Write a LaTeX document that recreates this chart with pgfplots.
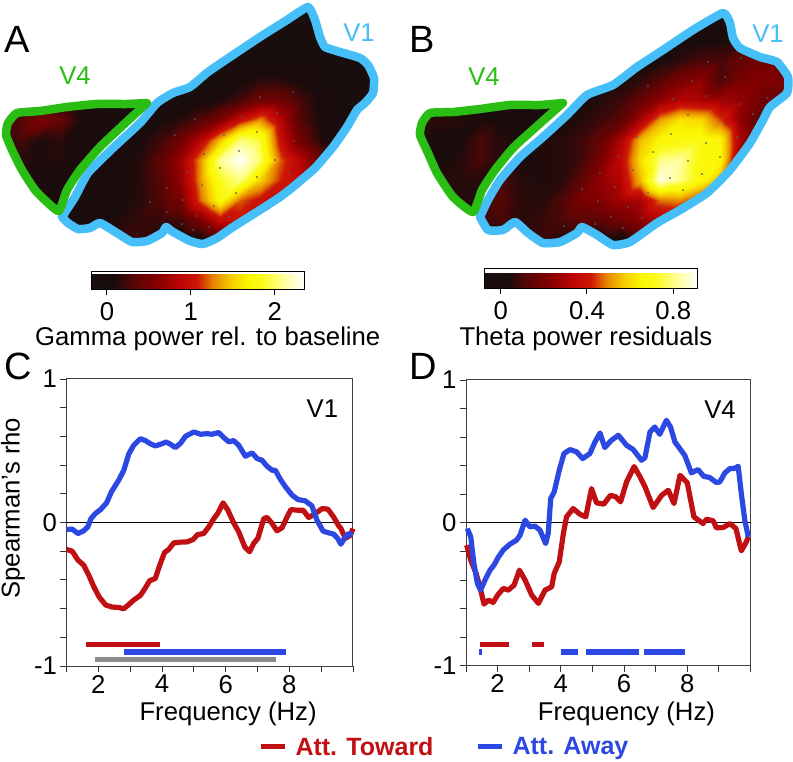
\documentclass[border=0pt]{standalone}
\usepackage{fontspec}
\setmainfont{Liberation Sans}
\usepackage{pgfplots}
\pgfplotsset{compat=1.18}
\newcommand{\bigf}{\fontsize{25.7}{28}\selectfont}
\newcommand{\legf}{\fontsize{25}{28}\selectfont}
\newcommand{\panelf}{\fontsize{38}{42}\selectfont}
\definecolor{towardred}{RGB}{192,16,20}
\definecolor{awayblue}{RGB}{44,72,226}
\definecolor{sigray}{RGB}{140,140,140}
\definecolor{vonecol}{RGB}{70,190,248}
\definecolor{vfourcol}{RGB}{42,190,20}
\pgfplotsset{
  colormap={hotmap}{
    rgb255(0)=(24,14,14) rgb255(11)=(26,12,12) rgb255(20)=(90,5,5) rgb255(30)=(130,0,0)
    rgb255(42)=(190,5,5) rgb255(50)=(205,25,5) rgb255(57)=(230,130,0) rgb255(65)=(245,200,0)
    rgb255(73)=(250,245,0) rgb255(80)=(250,250,25) rgb255(90)=(255,255,150) rgb255(100)=(255,255,255)
  },
  mapaxis/.style={
    scale only axis, hide axis, clip=false, y dir=reverse,
    xmin=0, ymin=0, ymax=260, height=260pt, enlargelimits=false,
    colormap name=hotmap,
  },
  heat/.style={surf, shader=interp, point meta=explicit, forget plot},
  mybar/.style={
    colorbar horizontal,
    colorbar style={
      scale only axis, anchor=north west, tick align=outside, xtick pos=lower,
      major tick length=6pt, axis line style={black,line width=0.9pt},
      xtick style={draw=black,line width=0.9pt},
      xticklabel style={font=\bigf,yshift=-4pt},
    },
  },
  outline/.style={line width=8.5pt, line join=round, line cap=round, smooth, tension=0.3, forget plot},
  curveaxis/.style={
    scale only axis, clip=false,
    xmin=1, xmax=10, ymin=-1, ymax=1,
    xtick={2,4,6,8}, xticklabels={2,4,6,8}, minor xtick={1,3,5,7,9,10},
    ytick={-1,0,1}, yticklabels={-1,0,1},
    minor ytick={-0.8,-0.6,-0.4,-0.2,0.2,0.4,0.6,0.8},
    xtick pos=lower, ytick pos=left, tick align=outside,
    major tick length=6pt, minor tick length=6pt,
    tick style={black!80,line width=0.9pt},
    minor tick style={black!80,line width=0.9pt},
    axis line style={black!75,line width=1pt},
    tick label style={font=\bigf},
    xticklabel style={yshift=-3pt, inner ysep=0pt},
    xlabel={Frequency (Hz)},
    every axis x label/.style={at={(axis description cs:0.564,-0.168)},anchor=center,font=\bigf,inner ysep=0pt},
  },
}
\begin{document}
\begin{tikzpicture}
\path[use as bounding box] (0pt,0pt) rectangle (793pt,761pt);

% panel A, coordinates are image pixels
\begin{axis}[mapaxis, mybar, at={(0pt,501pt)}, anchor=south west,
    xmax=380, width=380pt, point meta min=-0.19, point meta max=2.35,
    colorbar style={at={(0.2395,-0.0423)}, width=213pt, height=18pt,
      xtick={0,1,2}, xticklabels={0,1,2},
      xlabel={Gamma power rel. to baseline},
      every axis x label/.style={at={(axis description cs:0.548,-2.78)},anchor=center,font=\bigf}}]
\addplot[heat, mesh/cols=20] table[row sep=crcr, header=false, meta index=0,
    x expr={mod(\coordindex,20)*20}, y expr={floor(\coordindex/20)*20}] {
0\\0\\0\\0\\0\\0\\0\\0\\0\\0\\0\\0\\0\\0\\0\\0\\0\\0\\0\\0\\
0\\0\\0\\0\\0\\0\\0\\0\\0\\0\\0\\0\\0\\0\\0\\0\\0\\0\\0\\0\\
0\\0\\0\\0\\0\\0\\0\\0\\0\\0\\0\\0\\0\\0\\0\\0\\0\\0\\0\\0\\
0\\0\\0\\0\\0\\0\\0\\0\\0\\0\\0\\0\\0\\0\\0\\0\\0\\0\\0\\0\\
0\\0\\0\\0\\0\\0\\0\\0\\0\\0\\0\\0\\0.05\\0.15\\0.15\\0.05\\0\\0\\0\\0\\
0\\0\\0\\0\\0\\0\\0\\0\\0\\0\\0.05\\0.1\\0.25\\0.45\\0.45\\0.25\\0.05\\0\\0\\0\\
0.2\\0.3\\0.55\\0.4\\0.1\\0.05\\0\\0\\0.08\\0.15\\0.3\\0.55\\1.0\\1.3\\0.85\\0.3\\0.08\\0\\0\\0\\
0.2\\0.25\\0.1\\0.15\\0.05\\0.05\\0.05\\0.08\\0.22\\0.45\\0.85\\1.45\\2.05\\1.9\\1.0\\0.45\\0.12\\0\\0\\0\\
0.1\\0.15\\0.1\\0.12\\0.08\\0.05\\0.06\\0.14\\0.35\\0.7\\1.3\\2.1\\2.35\\2.0\\1.2\\0.85\\0.4\\0\\0\\0\\
0.1\\0.1\\0.1\\0.08\\0.05\\0.05\\0.06\\0.14\\0.3\\0.65\\1.3\\1.85\\2.05\\1.5\\1.1\\0.95\\0.5\\0.1\\0\\0\\
0.1\\0.1\\0.1\\0.08\\0.05\\0.05\\0.06\\0.14\\0.28\\0.5\\1.2\\1.75\\1.2\\1.0\\0.95\\0.8\\0.4\\0\\0\\0\\
0\\0\\0\\0\\0\\0.08\\0.12\\0.18\\0.18\\0.22\\0.5\\0.95\\1.0\\0.9\\0.8\\0.5\\0\\0\\0\\0\\
0\\0\\0\\0\\0\\0.1\\0.2\\0.2\\0.05\\0\\0\\0.2\\0.5\\0.6\\0.5\\0\\0\\0\\0\\0\\
0\\0\\0\\0\\0\\0.1\\0.2\\0.2\\0.05\\0\\0\\0.2\\0.5\\0.6\\0.5\\0\\0\\0\\0\\0\\
};
% white mask outside the two areas
\addplot[fill=white, draw=white, line width=1pt, even odd rule, forget plot] coordinates {
  (-1,-1) (381,-1) (381,261) (-1,261) (-1,-1)
  (308,7) (315,20) (320,37) (325,47) (340,52) (360,58) (368,65) (374,78) (373,93) (365,103) (357,110)
  (347,127) (333,147) (315,168) (293,187) (280,197) (260,210) (233,227) (217,238) (203,244) (190,241)
  (173,232) (166,227) (162,233) (147,241) (132,242) (117,233) (100,223) (90,228) (78,229) (68,223) (62,217)
  (75,197) (88,173) (113,148) (140,123) (157,103) (173,93) (190,87) (208,72) (233,55) (260,37) (287,20) (308,7)
  (-1,-1)
  (17,113) (8,123) (6,135) (13,152) (22,170) (35,190) (48,203) (59,211) (67,190) (80,170) (100,147) (120,128)
  (147,103) (127,104) (97,104) (67,107) (40,111) (17,113)
  (-1,-1)
};
% electrode sites
\addplot[only marks, mark=*, mark size=0.55pt, black!65, forget plot] coordinates {
  (204,154) (224,135) (257,132) (239,151) (220,168) (257,177) (202,185) (236,193) (214,206) (229,217)
  (249,203) (270,189) (289,173) (275,160) (294,141) (277,113) (242,117) (260,97) (293,92) (187,172)
  (175,135) (195,119) (167,188) (183,200) (150,202) (167,212) (197,216) (182,224) (209,227) (193,230)
};
\addplot[draw=vonecol, outline] coordinates {
  (62,217) (75,197) (88,173) (113,148) (140,123) (157,103) (173,93) (190,87) (208,72) (233,55)
  (260,37) (287,20) (308,7) (315,20) (320,37) (325,47) (340,52) (360,58) (368,65) (374,78) (373,93)
  (365,103) (357,110) (347,127) (333,147) (315,168) (293,187) (280,197) (260,210) (233,227) (217,238)
  (203,244) (190,241) (173,232) (166,227) (162,233) (147,241) (132,242) (117,233) (100,223) (90,228)
  (78,229) (68,223) (62,217)
};
\addplot[draw=vfourcol, outline] coordinates {
  (147,103) (127,104) (97,104) (67,107) (40,111) (17,113) (8,123) (6,135) (13,152) (22,170) (35,190)
  (48,203) (59,211) (67,190) (80,170) (100,147) (120,128) (147,103)
};
\node[font=\panelf] at (axis cs:17,39) {A};
\node[font=\bigf, text=vfourcol] at (axis cs:75,76) {V4};
\node[font=\bigf, text=vonecol] at (axis cs:359,33) {V1};
\end{axis}

% panel B
\begin{axis}[mapaxis, mybar, at={(400pt,501pt)}, anchor=south west,
    xmax=400, width=400pt, point meta min=-0.074, point meta max=0.912,
    colorbar style={at={(0.2118,-0.0308)}, width=212.6pt, height=20pt,
      xtick={0,0.4,0.8}, xticklabels={0,0.4,0.8},
      xlabel={Theta power residuals},
      every axis x label/.style={at={(axis description cs:0.476,-2.55)},anchor=center,font=\bigf}}]
\addplot[heat, mesh/cols=21] table[row sep=crcr, header=false, meta index=0,
    x expr={mod(\coordindex,21)*20}, y expr={floor(\coordindex/21)*20}] {
0\\0\\0\\0\\0\\0\\0\\0\\0\\0\\0\\0\\0\\0\\0\\0\\0\\0\\0\\0\\0\\
0\\0\\0\\0\\0\\0\\0\\0\\0\\0\\0\\0\\0\\0\\0\\0\\0.02\\0.03\\0\\0\\0\\
0\\0\\0\\0\\0\\0\\0\\0\\0\\0\\0\\0\\0\\0\\0.02\\0.03\\0.03\\0.05\\0.1\\0.1\\0.1\\
0\\0\\0\\0\\0\\0\\0\\0\\0\\0\\0\\0\\0.02\\0.03\\0.06\\0.1\\0.1\\0.15\\0.17\\0.2\\0.2\\
0\\0\\0\\0\\0\\0\\0\\0\\0\\0\\0.02\\0.03\\0.06\\0.12\\0.2\\0.25\\0.1\\0.2\\0.22\\0.2\\0.2\\
0\\0\\0\\0\\0\\0\\0\\0\\0\\0.03\\0.05\\0.08\\0.15\\0.25\\0.32\\0.3\\0.28\\0.25\\0.18\\0.15\\0.15\\
0.04\\0.05\\0.06\\0.05\\0.04\\0.03\\0.03\\0.02\\0.03\\0.05\\0.08\\0.13\\0.3\\0.52\\0.62\\0.6\\0.45\\0.25\\0.12\\0.1\\0.1\\
0.04\\0.04\\0.02\\0.03\\0.1\\0.05\\0.03\\0.04\\0.05\\0.08\\0.15\\0.3\\0.55\\0.66\\0.68\\0.7\\0.66\\0.3\\0.1\\0.05\\0.05\\
0.03\\0.03\\0.03\\0.05\\0.1\\0.05\\0.03\\0.04\\0.05\\0.08\\0.2\\0.35\\0.6\\0.8\\0.82\\0.68\\0.66\\0.25\\0.05\\0\\0\\
0.03\\0.03\\0.05\\0.05\\0.05\\0.1\\0.05\\0.04\\0.05\\0.13\\0.25\\0.32\\0.55\\0.88\\0.8\\0.68\\0.55\\0.1\\0\\0\\0\\
0.03\\0.03\\0.05\\0.05\\0.05\\0.12\\0.06\\0.05\\0.1\\0.2\\0.22\\0.28\\0.3\\0.48\\0.5\\0.4\\0.2\\0\\0\\0\\0\\
0\\0\\0\\0\\0.08\\0.1\\0.06\\0.07\\0.1\\0.13\\0.13\\0.18\\0.25\\0.3\\0.25\\0.1\\0\\0\\0\\0\\0\\
0\\0\\0\\0\\0\\0.05\\0.06\\0.08\\0.05\\0.02\\0.02\\0\\0.1\\0.12\\0.1\\0\\0\\0\\0\\0\\0\\
0\\0\\0\\0\\0\\0.05\\0.06\\0.08\\0.05\\0.02\\0.02\\0\\0.1\\0.12\\0.1\\0\\0\\0\\0\\0\\0\\
};
\addplot[fill=white, draw=white, line width=1pt, even odd rule, forget plot] coordinates {
  (-1,-1) (401,-1) (401,261) (-1,261) (-1,-1)
  (323,13) (330,23) (333,38) (340,48) (360,57) (377,62) (388,77) (387,93) (370,107) (363,120) (350,143)
  (330,170) (307,193) (280,210) (257,223) (230,242) (213,245) (197,235) (182,227) (177,233) (160,242)
  (143,243) (128,233) (115,222) (103,230) (88,230) (80,217) (88,200) (100,180) (120,157) (143,137)
  (167,115) (187,95) (213,85) (237,67) (263,50) (293,30) (323,13)
  (-1,-1)
  (30,113) (22,123) (20,135) (28,153) (37,173) (53,197) (73,212) (82,190) (95,170) (113,148) (136,127)
  (163,103) (140,105) (110,105) (80,109) (53,112) (30,113)
  (-1,-1)
};
\addplot[only marks, mark=*, mark size=0.55pt, black!65, forget plot] coordinates {
  (270,178) (288,161) (302,174) (320,157) (306,143) (271,134) (253,152) (233,170) (218,156) (237,137)
  (256,119) (288,115) (325,124) (337,137) (273,99) (306,96) (341,104) (353,114) (367,98) (292,81)
  (325,77) (341,58) (308,62) (248,86) (200,173) (215,187) (248,193) (283,190) (262,206) (228,207)
  (198,201) (182,189) (211,217) (242,218) (223,228) (195,224) (164,226)
};
\addplot[draw=vonecol, outline] coordinates {
  (80,217) (88,200) (100,180) (120,157) (143,137) (167,115) (187,95) (213,85) (237,67) (263,50) (293,30)
  (323,13) (330,23) (333,38) (340,48) (360,57) (377,62) (388,77) (387,93) (370,107) (363,120) (350,143)
  (330,170) (307,193) (280,210) (257,223) (230,242) (213,245) (197,235) (182,227) (177,233) (160,242)
  (143,243) (128,233) (115,222) (103,230) (88,230) (80,217)
};
\addplot[draw=vfourcol, outline] coordinates {
  (163,103) (140,105) (110,105) (80,109) (53,112) (30,113) (22,123) (20,135) (28,153) (37,173) (53,197)
  (73,212) (82,190) (95,170) (113,148) (136,127) (163,103)
};
\node[font=\panelf] at (axis cs:22,39) {B};
\node[font=\bigf, text=vfourcol] at (axis cs:84,77) {V4};
\node[font=\bigf, text=vonecol] at (axis cs:368,34) {V1};
\end{axis}

% panel C
\begin{axis}[curveaxis, at={(66.5pt,95pt)}, anchor=south west, width=286.5pt, height=287pt,
    ylabel={Spearman's rho},
    every axis y label/.style={at={(axis description cs:-0.187,0.55)},rotate=90,anchor=center,font=\bigf},
    legend style={at={(1.319,-0.282)}, anchor=center, draw=none, fill=none, legend columns=2,
      /tikz/every even column/.append style={column sep=40pt}, font=\legf},
    legend image code/.code={\draw[#1, line width=5pt] (0pt,0pt) -- (24pt,0pt); \path (30pt,0pt);}]
\addplot[black, line width=1.2pt, forget plot] coordinates {(1,0) (10,0)};
\addplot[towardred, line width=5.2pt, line join=round] coordinates {
 (1.00,-0.188) (1.18,-0.200) (1.36,-0.262) (1.54,-0.297) (1.70,-0.367) (1.86,-0.448) (2.02,-0.517) (2.23,-0.575)
 (2.43,-0.589) (2.64,-0.592) (2.80,-0.601) (2.96,-0.571) (3.11,-0.541) (3.32,-0.508) (3.48,-0.455) (3.61,-0.406)
 (3.79,-0.390) (3.93,-0.297) (4.08,-0.209) (4.21,-0.188) (4.37,-0.142) (4.58,-0.137) (4.79,-0.135) (4.98,-0.118)
 (5.12,-0.084) (5.31,-0.077) (5.47,-0.030) (5.63,0.028) (5.75,0.063) (5.92,0.137) (6.07,0.086) (6.25,-0.002)
 (6.41,-0.065) (6.60,-0.170) (6.75,-0.204) (6.88,-0.146) (7.01,-0.111) (7.20,0.028) (7.30,0.035) (7.46,-0.007)
 (7.61,-0.058) (7.77,-0.037) (7.93,0.039) (8.05,0.090) (8.24,0.086) (8.43,0.086) (8.61,0.035) (8.82,0.063)
 (9.03,0.097) (9.21,0.093) (9.39,0.039) (9.55,-0.023) (9.62,-0.042) (9.76,-0.111) (9.92,-0.088) (10.00,-0.042)
};
\addlegendentry{\textcolor{towardred}{\textbf{Att. Toward}}}
\addplot[awayblue, line width=5.2pt, line join=round] coordinates {
 (1.00,-0.049) (1.18,-0.046) (1.36,-0.077) (1.54,-0.058) (1.67,-0.030) (1.77,0.028) (1.91,0.063) (2.07,0.090)
 (2.26,0.137) (2.41,0.213) (2.54,0.260) (2.64,0.295) (2.80,0.364) (2.96,0.480) (3.11,0.538) (3.32,0.584)
 (3.48,0.571) (3.64,0.548) (3.79,0.534) (3.95,0.545) (4.13,0.561) (4.27,0.545) (4.42,0.522) (4.58,0.552)
 (4.74,0.601) (5.00,0.631) (5.21,0.615) (5.42,0.619) (5.57,0.615) (5.78,0.627) (5.94,0.592) (6.10,0.562)
 (6.25,0.571) (6.41,0.538) (6.62,0.462) (6.83,0.485) (6.99,0.445) (7.14,0.434) (7.30,0.392) (7.46,0.364)
 (7.56,0.364) (7.72,0.300) (7.88,0.248) (8.09,0.190) (8.27,0.160) (8.50,0.151) (8.71,0.116) (8.87,0.016)
 (9.06,-0.060) (9.24,-0.072) (9.39,-0.081) (9.52,-0.111) (9.62,-0.151) (9.76,-0.100) (9.86,-0.077) (10.00,-0.088)
};
\addlegendentry{\textcolor{awayblue}{\textbf{Att. Away}}}
\addplot[towardred, line width=5.5pt, forget plot] coordinates {(1.62,-0.849) (3.93,-0.849)};
\addplot[awayblue, line width=5.5pt, forget plot] coordinates {(2.80,-0.903) (7.88,-0.903)};
\addplot[sigray, line width=5.5pt, forget plot] coordinates {(1.91,-0.956) (7.57,-0.956)};
\node[font=\bigf] at (rel axis cs:0.893,0.895) {V1};
\node[font=\panelf] at (rel axis cs:-0.169,1.045) {C};
\end{axis}

% panel D
\begin{axis}[curveaxis, at={(466pt,95.3pt)}, anchor=south west, width=284.5pt, height=285.7pt]
\addplot[black, line width=1.2pt, forget plot] coordinates {(1,0) (10,0)};
\addplot[towardred, line width=5.2pt, line join=round, forget plot] coordinates {
 (1.02,-0.156) (1.15,-0.261) (1.32,-0.354) (1.44,-0.448) (1.57,-0.569) (1.71,-0.541) (1.86,-0.557) (2.00,-0.506)
 (2.18,-0.459) (2.34,-0.471) (2.52,-0.436) (2.69,-0.331) (2.87,-0.401) (3.08,-0.506) (3.29,-0.564) (3.50,-0.471)
 (3.71,-0.448) (3.79,-0.354) (3.95,-0.273) (4.08,-0.075) (4.18,0.042) (4.39,0.100) (4.60,0.061) (4.79,0.042)
 (4.97,0.240) (5.13,0.140) (5.36,0.131) (5.57,0.193) (5.74,0.182) (5.89,0.147) (6.08,0.287) (6.32,0.394)
 (6.50,0.324) (6.66,0.254) (6.92,0.107) (7.19,0.193) (7.40,0.228) (7.58,0.135) (7.77,0.333) (8.00,0.280)
 (8.21,0.042) (8.50,-0.005) (8.61,0.026) (8.82,0.014) (8.92,-0.035) (9.13,-0.033) (9.35,-0.005) (9.54,-0.040)
 (9.71,-0.196) (9.87,-0.133) (9.93,-0.098)
};
\addplot[awayblue, line width=5.2pt, line join=round, forget plot] coordinates {
 (1.04,-0.040) (1.15,-0.098) (1.25,-0.284) (1.36,-0.424) (1.46,-0.471) (1.60,-0.401) (1.76,-0.331) (1.89,-0.294)
 (2.02,-0.241) (2.18,-0.190) (2.39,-0.149) (2.60,-0.121) (2.71,-0.086) (2.87,0.019) (3.02,-0.028) (3.18,-0.023)
 (3.34,-0.051) (3.52,-0.145) (3.60,-0.075) (3.68,0.170) (3.79,0.217) (3.95,0.368) (4.10,0.485) (4.29,0.513)
 (4.50,0.497) (4.69,0.450) (4.92,0.485) (5.08,0.566) (5.24,0.629) (5.39,0.527) (5.60,0.578) (5.82,0.613)
 (6.08,0.543) (6.29,0.513) (6.55,0.438) (6.66,0.455) (6.82,0.636) (6.97,0.671) (7.13,0.620) (7.34,0.718)
 (7.47,0.671) (7.61,0.566) (7.92,0.473) (8.13,0.350) (8.34,0.373) (8.52,0.326) (8.71,0.317) (8.92,0.282)
 (9.03,0.287) (9.19,0.350) (9.35,0.380) (9.48,0.380) (9.61,0.396) (9.71,0.205) (9.82,0.019) (9.93,-0.098)
};
\addplot[towardred, line width=5.5pt, forget plot] coordinates {(1.44,-0.851) (2.35,-0.851)};
\addplot[towardred, line width=5.5pt, forget plot] coordinates {(3.10,-0.851) (3.47,-0.851)};
\addplot[awayblue, line width=5.5pt, forget plot] coordinates {(1.40,-0.904) (1.51,-0.904)};
\addplot[awayblue, line width=5.5pt, forget plot] coordinates {(4.02,-0.904) (4.53,-0.904)};
\addplot[awayblue, line width=5.5pt, forget plot] coordinates {(4.81,-0.904) (6.47,-0.904)};
\addplot[awayblue, line width=5.5pt, forget plot] coordinates {(6.63,-0.904) (7.94,-0.904)};
\node[font=\bigf] at (rel axis cs:0.893,0.895) {V4};
\node[font=\panelf] at (rel axis cs:-0.151,1.049) {D};
\end{axis}
\end{tikzpicture}
\end{document}
